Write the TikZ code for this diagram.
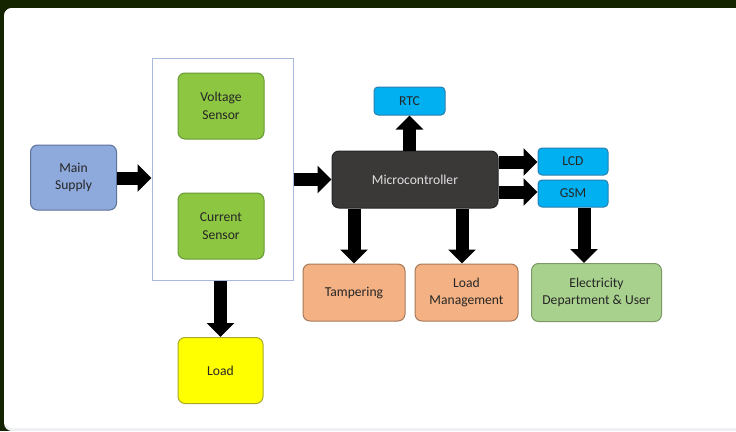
\documentclass[tikz,border=0pt]{standalone}
\usepackage{fontspec}
\setmainfont{Carlito}
\usetikzlibrary{arrows.meta}
\definecolor{framebg}{HTML}{142400}
\definecolor{bottomstrip}{HTML}{EEF0F4}
\definecolor{supplyfill}{HTML}{8EA9DB}
\definecolor{supplyline}{HTML}{5D7199}
\definecolor{sensfill}{HTML}{8DC641}
\definecolor{sensline}{HTML}{6A9A35}
\definecolor{outerline}{HTML}{A9B8DD}
\definecolor{mcfill}{HTML}{3B3838}
\definecolor{mcline}{HTML}{262626}
\definecolor{bluefill}{HTML}{00B0F0}
\definecolor{blueline}{HTML}{2C7FB0}
\definecolor{orfill}{HTML}{F4B183}
\definecolor{orline}{HTML}{A67A5A}
\definecolor{gfill}{HTML}{A9D18E}
\definecolor{gline}{HTML}{7C9A66}
\definecolor{yfill}{HTML}{FFFF00}
\definecolor{yline}{HTML}{A8A82A}
\definecolor{txt}{HTML}{262626}
\tikzset{
  blockbox/.style={rectangle, rounded corners=7pt, line width=1pt, align=center,
    font=\fontsize{13.6}{17.5}\selectfont, text=txt, inner sep=2pt},
  arr/.style={line width=13pt, -{Triangle[length=14pt,width=27pt]}, black},
}
\begin{document}
\begin{tikzpicture}[x=1pt,y=-1pt]
\useasboundingbox (0,0) rectangle (736,431);
\clip (0,0) rectangle (736,431);
\fill[framebg] (0,0) rectangle (736,431);
\fill[bottomstrip,rounded corners=8pt] (4,8) rectangle (746,431);
\fill[white,rounded corners=8pt] (4,8) rectangle (746,428);

\node[draw=outerline, line width=1pt, minimum width=141pt, minimum height=222pt, inner sep=0pt] (outer) at (222.5,169) {};
\node[blockbox, fill=supplyfill, draw=supplyline, minimum width=86pt, minimum height=65pt] (main) at (73.5,177.5) {Main\\Supply};
\node[blockbox, fill=sensfill, draw=sensline, minimum width=86pt, minimum height=66pt] (volt) at (221,106) {Voltage\\Sensor};
\node[blockbox, fill=sensfill, draw=sensline, minimum width=86pt, minimum height=66pt] (curr) at (221,226) {Current\\Sensor};
\node[blockbox, fill=mcfill, draw=mcline, text=white!88!black, minimum width=166pt, minimum height=57pt] (mc) at (415,179.5) {Microcontroller};
\node[blockbox, rounded corners=4pt, fill=bluefill, draw=blueline, minimum width=71pt, minimum height=28pt] (rtc) at (409.5,101) {RTC};
\node[blockbox, rounded corners=4pt, fill=bluefill, draw=blueline, minimum width=70pt, minimum height=27pt] (lcd) at (573,161.5) {LCD};
\node[blockbox, rounded corners=4pt, fill=bluefill, draw=blueline, minimum width=70pt, minimum height=27pt] (gsm) at (573,193.5) {GSM};
\node[blockbox, fill=orfill, draw=orline, minimum width=102pt, minimum height=57pt] (tamp) at (354,292.5) {Tampering};
\node[blockbox, fill=orfill, draw=orline, minimum width=103pt, minimum height=57pt] (lm) at (466.5,292.5) {Load\\Management};
\node[blockbox, fill=gfill, draw=gline, minimum width=130pt, minimum height=58pt] (elec) at (596.5,292.5) {Electricity\\Department \& User};
\node[blockbox, fill=yfill, draw=yline, minimum width=85pt, minimum height=66pt] (load) at (220.5,370.5) {Load};

\coordinate (mainy) at (0,178);
\coordinate (lmx) at (462,0);
\coordinate (gsmx) at (584,0);
\coordinate (lcdy) at (0,162);
\coordinate (gsmy) at (0,192);

\draw[arr] (main.east |- mainy) -- (outer.west |- mainy);
\draw[arr] (outer.east |- mc.west) -- (mc.west);
\draw[arr] (mc.north -| rtc.south) -- (rtc.south);
\draw[arr] (mc.east |- lcdy) -- (lcd.west |- lcdy);
\draw[arr] (mc.east |- gsmy) -- (gsm.west |- gsmy);
\draw[arr] (mc.south -| tamp.north) -- (tamp.north);
\draw[arr] (mc.south -| lmx) -- (lm.north -| lmx);
\draw[arr] (gsm.south -| gsmx) -- (elec.north -| gsmx);
\draw[arr] (outer.south -| load.north) -- (load.north);
\end{tikzpicture}
\end{document}
